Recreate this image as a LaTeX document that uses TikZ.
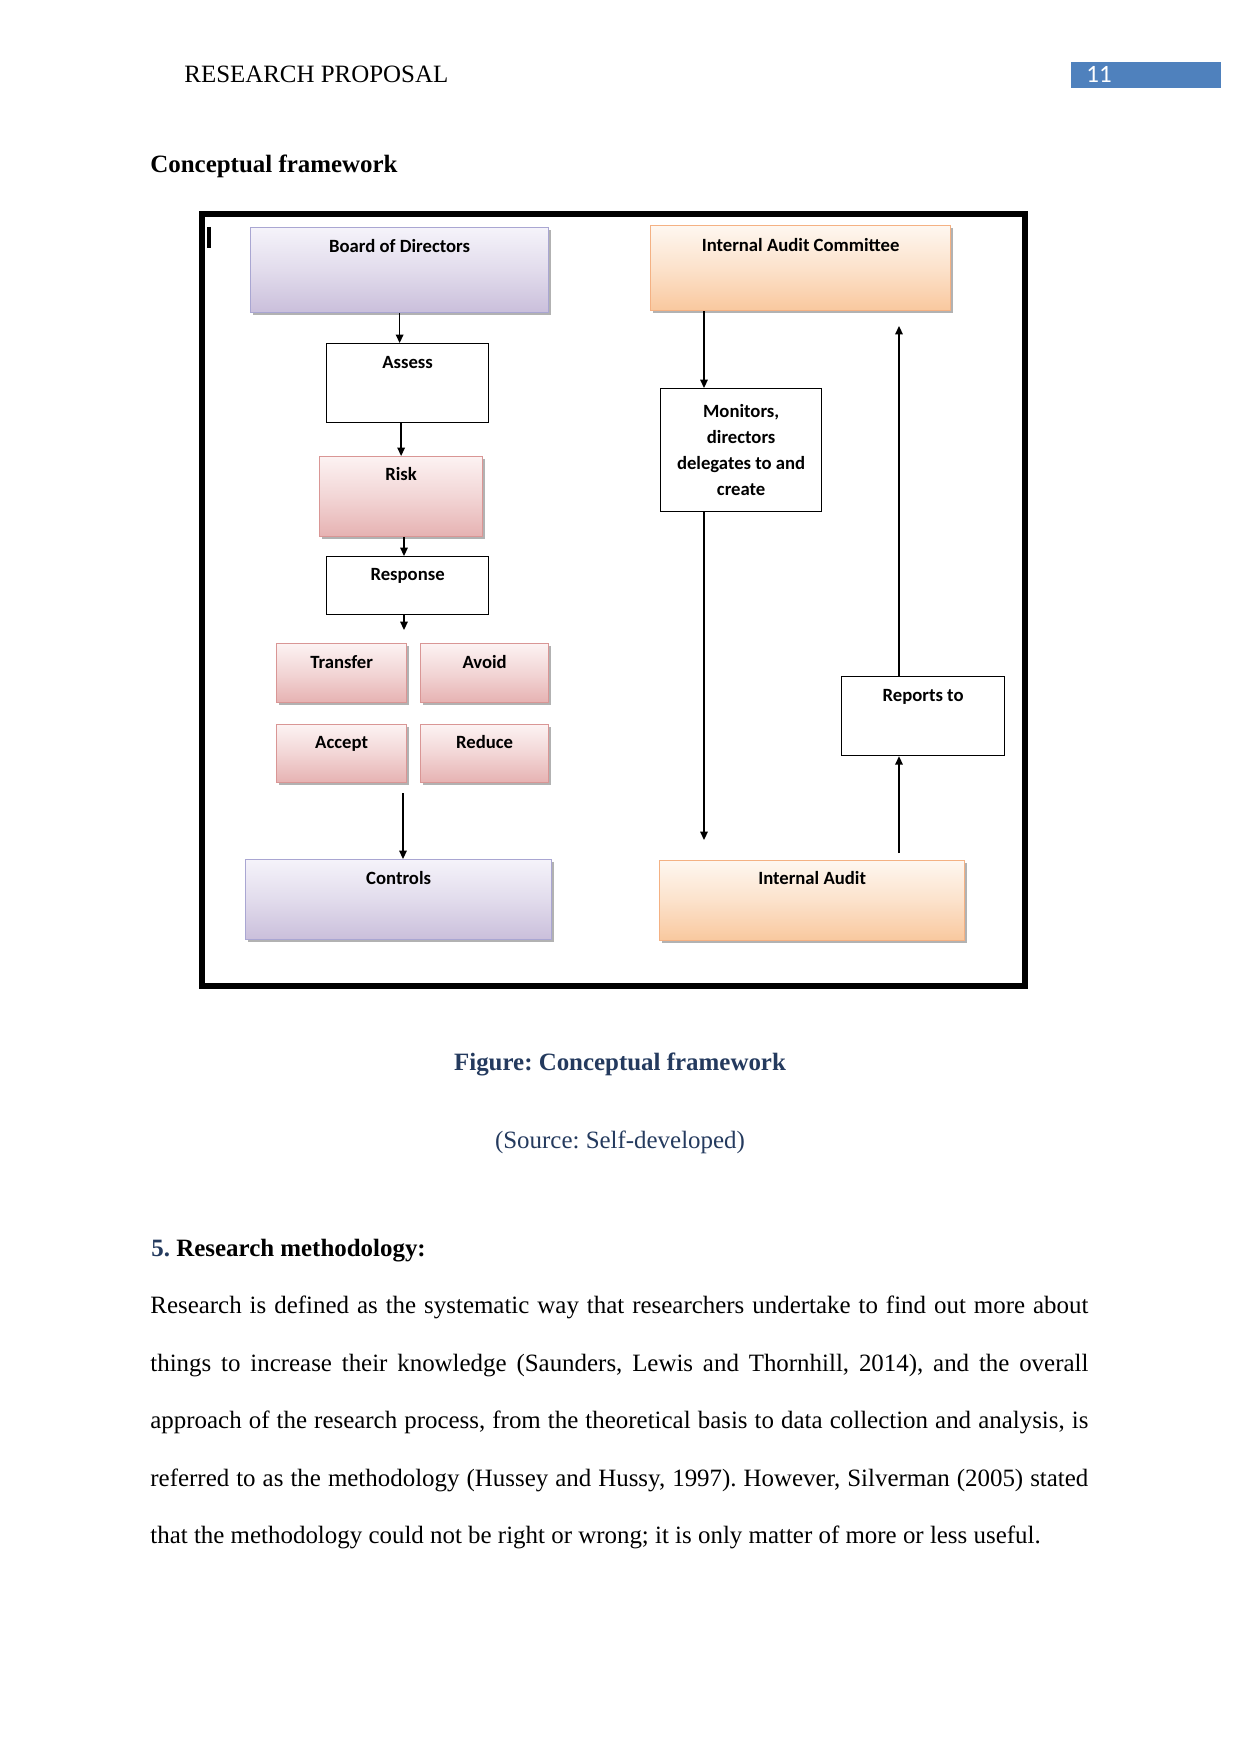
\documentclass[tikz,border=0pt]{standalone}
\usepackage{fontspec}
\setmainfont{Liberation Serif}
\newfontfamily\boxfont{Carlito}
\usetikzlibrary{arrows.meta,shadows}
\frenchspacing

\newdimen\pxu
\pxu=0.1692mm

\definecolor{capblue}{HTML}{243A5E}
\definecolor{headblue}{HTML}{4F81BD}
\definecolor{lavtop}{HTML}{F5F3FA}
\definecolor{lavbot}{HTML}{CABFDB}
\definecolor{lavline}{HTML}{A9A6D2}
\definecolor{pinktop}{HTML}{FCF2F2}
\definecolor{pinkbot}{HTML}{E6B2B2}
\definecolor{pinkline}{HTML}{D99695}
\definecolor{orgtop}{HTML}{FEF7F0}
\definecolor{orgbot}{HTML}{F9C89E}
\definecolor{orgline}{HTML}{F4B183}

\begin{document}
\begin{tikzpicture}[
  x=0.1692mm, y=-0.1692mm,
  every node/.style={inner sep=0pt, font=\fontsize{12}{14}\selectfont},
  box/.style={rectangle, draw, line width=0.6pt, anchor=north west,
    font=\boxfont\bfseries\fontsize{9}{12.4}\selectfont},
  shadowed/.style={drop shadow={shadow xshift=1.2pt, shadow yshift=-1.2pt,
    fill=black, opacity=0.3}},
  lav/.style={box, shadowed, draw=lavline, top color=lavtop, bottom color=lavbot,
    middle color=lavtop!55!lavbot},
  pink/.style={box, shadowed, draw=pinkline, top color=pinktop, bottom color=pinkbot,
    middle color=pinktop!55!pinkbot},
  org/.style={box, shadowed, draw=orgline, top color=orgtop, bottom color=orgbot,
    middle color=orgtop!55!orgbot},
  plain/.style={box, fill=white},
  arr/.style={-{Triangle[length=4pt, width=3.6pt]}, line width=0.7pt},
  textline/.style={anchor=base west}
]
  \useasboundingbox (0,0) rectangle (1241,1754);

  % running head
  \node[textline] (runhead) at (184,83) {RESEARCH PROPOSAL};
  \node[fill=headblue, anchor=north west, minimum width=150\pxu, minimum height=26\pxu]
    (pagebox) at (1071,62) {};
  \node[textline, text=white, font=\boxfont\fontsize{12}{14}\selectfont] (pagenum) at (1086,83) {11};

  \node[textline, font=\bfseries\fontsize{12}{14}\selectfont] (title) at (150,173) {Conceptual framework};

  % frame
  \draw[line width=6\pxu, fill=white,
    drop shadow={shadow xshift=1.6pt, shadow yshift=-1.6pt, opacity=0.25}]
    (202,214) rectangle (1025,986);
  \draw[line width=4\pxu] (209,227) -- (209,248);

  % left column
  \node[lav, minimum width=298\pxu, text height=25\pxu, text depth=60\pxu] (board) at (250,227) {Board of Directors};
  \node[plain, minimum width=162\pxu, text height=25\pxu, text depth=54\pxu] (assess) at (326,343) {Assess};
  \node[pink, minimum width=163\pxu, text height=24\pxu, text depth=56\pxu] (risk) at (319,456) {Risk};
  \node[plain, minimum width=162\pxu, text height=24\pxu, text depth=34\pxu] (response) at (326,556) {Response};
  \node[pink, minimum width=130\pxu, text height=25\pxu, text depth=34\pxu] (transfer) at (276,643) {Transfer};
  \node[pink, minimum width=128\pxu, text height=25\pxu, text depth=34\pxu] (avoid) at (420,643) {Avoid};
  \node[pink, minimum width=130\pxu, text height=24\pxu, text depth=34\pxu] (accept) at (276,724) {Accept};
  \node[pink, minimum width=128\pxu, text height=24\pxu, text depth=34\pxu] (reduce) at (420,724) {Reduce};
  \node[lav, minimum width=306\pxu, text height=25\pxu, text depth=55\pxu] (controls) at (245,859) {Controls};

  % right column
  \node[org, minimum width=300\pxu, text height=26\pxu, text depth=59\pxu] (iac) at (650,225) {Internal Audit Committee};
  \node[plain, align=center, minimum width=161\pxu, minimum height=123\pxu] (monitors) at (660,388)
    {Monitors,\\directors\\delegates to and\\create};
  \node[plain, minimum width=163\pxu, text height=25\pxu, text depth=54\pxu] (reports) at (841,676) {Reports to};
  \node[org, minimum width=305\pxu, text height=24\pxu, text depth=56\pxu] (audit) at (659,860) {Internal Audit};

  % connectors
  \coordinate (split) at (404,630);
  \coordinate (merge) at (403,793);
  \coordinate (monx) at (704,840);
  \coordinate (upx) at (899,853);
  \coordinate (iacin) at (899,326);

  \draw[arr] (board.south) -- (board.south |- assess.north);
  \draw[arr] (assess.south -| risk.north) -- (risk.north);
  \draw[arr] (risk.south -| split) -- (response.north -| split);
  \draw[arr] (response.south -| split) -- (split);
  \draw[arr] (merge) -- (merge |- controls.north);

  \draw[arr] (iac.south -| monx) -- (monitors.north -| monx);
  \draw[arr] (monitors.south -| monx) -- (monx);
  \draw[arr] (upx) -- (reports.south -| upx);
  \draw[arr] (reports.north -| upx) -- (iacin);

  % caption
  \node[anchor=base, text=capblue, font=\bfseries\fontsize{12}{14}\selectfont] (caption) at (620,1070) {Figure: Conceptual framework};
  \node[anchor=base, text=capblue] (source) at (620,1148) {(Source: Self-developed)};

  % section text
  \node[textline, font=\bfseries\fontsize{12}{14}\selectfont] (section) at (151,1256)
    {\textcolor{capblue}{5.} Research methodology:};
  \node[textline] (line1) at (150,1313) {\makebox[938\pxu][s]{Research is defined as the systematic way that researchers undertake to find out more about}};
  \node[textline] (line2) at (150,1371) {\makebox[938\pxu][s]{things to increase their knowledge (Saunders, Lewis and Thornhill, 2014), and the overall}};
  \node[textline] (line3) at (150,1428) {\makebox[938\pxu][s]{approach of the research process, from the theoretical basis to data collection and analysis, is}};
  \node[textline] (line4) at (150,1486) {\makebox[938\pxu][s]{referred to as the methodology (Hussey and Hussy, 1997). However, Silverman (2005) stated}};
  \node[textline] (line5) at (150,1543) {that the methodology could not be right or wrong; it is only matter of more or less useful.};
\end{tikzpicture}
\end{document}
